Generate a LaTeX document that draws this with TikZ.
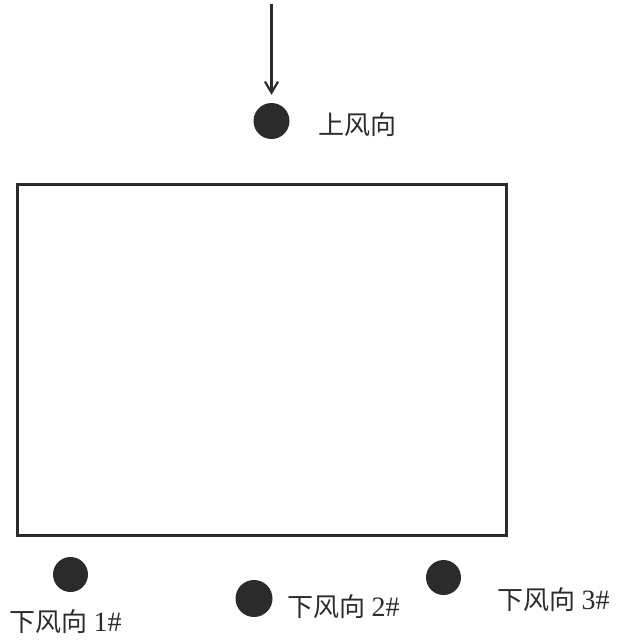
\documentclass[tikz,border=0pt]{standalone}
\usepackage{fontspec}
\setmainfont{Liberation Serif}
\newfontfamily\cjk{Noto Sans CJK SC}
\usetikzlibrary{arrows.meta}
\definecolor{ink}{HTML}{2B2B2B}
\newcommand{\numtxt}[1]{{\fontsize{28pt}{30pt}\selectfont #1}}
\tikzset{
  dot/.style={circle, fill=ink, draw=none, minimum size=#1, inner sep=0pt},
  dot/.default=35pt,
  lbl/.style={anchor=west, inner sep=0pt, font=\fontsize{26pt}{28pt}\selectfont, text=ink},
  wind/.style={draw=ink, line width=2.3pt, -{Straight Barb[length=11pt,width=13pt,line width=2.2pt]}, shorten >=8pt},
  site/.style={draw=ink, line width=3pt, minimum width=489pt, minimum height=350.5pt, inner sep=0pt}
}
\begin{document}
\begin{tikzpicture}[x=1pt,y=-1pt]
\useasboundingbox (0,0) rectangle (617,641);
\node[site] (box) at (261.5,359.75) {};
\node[dot=36pt] (up) at (271.5,121) {};
\coordinate (atop) at (271.5,4);
\draw[wind] (atop) -- (up);
\node[lbl] (tup) at (318,125) {\cjk 上风向};
\node[dot] (d1) at (70.5,574.5) {};
\node[dot=37pt] (d2) at (254,598.5) {};
\node[dot] (d3) at (443.5,577.5) {};
\node[lbl] (t1) at (9,622) {{\cjk 下风向} \numtxt{1\#}};
\node[lbl] (t2) at (287,607) {{\cjk 下风向} \numtxt{2\#}};
\node[lbl] (t3) at (497,600) {{\cjk 下风向} \numtxt{3\#}};
\end{tikzpicture}
\end{document}
